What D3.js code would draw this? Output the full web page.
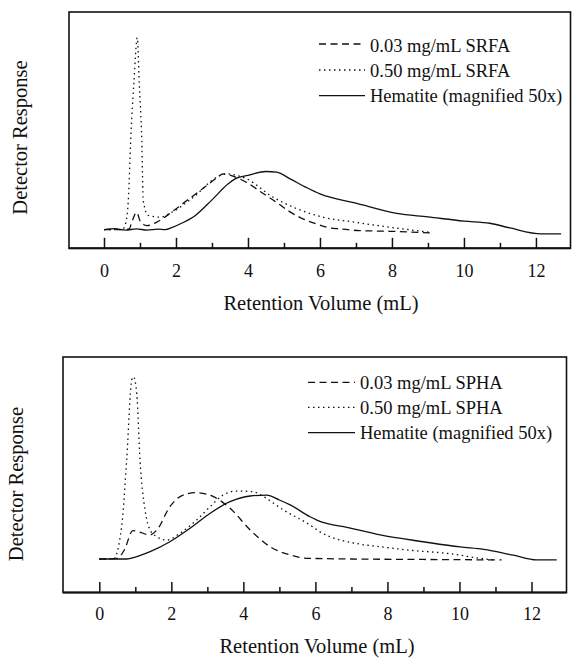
<!DOCTYPE html>
<html><head><meta charset="utf-8">
<script src="https://cdn.jsdelivr.net/npm/d3@7/dist/d3.min.js"></script>
<style>body{margin:0;background:#fff}svg{display:block}text{font-family:"Liberation Serif","Times New Roman",serif;fill:#111}</style>
</head><body>
<script>
// ---------- data ----------
const xTicksMajor = [0, 2, 4, 6, 8, 10, 12];
const xTicksMinor = [1, 3, 5, 7, 9, 11];
const xTitle = "Retention Volume (mL)";
const yTitle = "Detector Response";

// Top panel (SRFA)
const topLegend = ["0.03 mg/mL SRFA", "0.50 mg/mL SRFA", "Hematite (magnified 50x)"];
const srfaLowX  = [0, 0.5, 0.7, 0.77, 0.91, 1.0, 1.19, 1.46, 1.93, 2.3, 2.8, 3.1, 3.31, 3.6, 3.96, 4.4, 4.8, 5.12, 5.44, 5.9, 6.19, 6.55, 7.1, 7.94, 9.1];
const srfaLowY  = [0, 0, 0.3, 3.1, 7.3, 3.8, 1.7, 3.1, 8, 12.3, 18, 21.5, 23.6, 22.5, 20, 15.5, 11.5, 8, 5.2, 2.4, 1, 0.3, -0.4, -0.7, -1.4];
const srfaHighX = [0, 0.5, 0.61, 0.675, 0.75, 0.83, 0.925, 0.98, 1.05, 1.09, 1.23, 1.56, 1.88, 2.48, 3.22, 3.4, 3.96, 4.7, 5.26, 6.1, 7.0, 7.94, 9.05];
const srfaHighY = [0, 0, 3.1, 12.3, 40.7, 61.9, 81.2, 61.9, 37.7, 12.3, 6.0, 5.3, 7.3, 13.7, 22.9, 23.6, 21.5, 13.7, 9.5, 5.2, 3.1, 1, -1.1];
const hemTopX   = [0, 0.3, 0.6, 0.9, 1.2, 1.5, 1.7, 1.9, 2.2, 2.53, 3.0, 3.45, 3.64, 4.0, 4.5, 4.8, 5.17, 5.6, 6.0, 7.0, 8.13, 9.0, 10.0, 10.72, 11.28, 12.15, 12.7];
const hemTopY   = [0, 0.4, -0.2, 0.3, -0.2, 0.2, 0, 1, 3, 5.9, 12.6, 19.4, 21.5, 23, 24.6, 24.3, 21.5, 18, 15.1, 11.2, 6.9, 5.4, 3.6, 2.7, 0.7, -1.8, -1.8];

// Bottom panel (SPHA)
const botLegend = ["0.03 mg/mL SPHA", "0.50 mg/mL SPHA", "Hematite (magnified 50x)"];
const sphaLowX  = [0, 0.5, 0.7, 0.93, 1.1, 1.4, 1.6, 1.96, 2.33, 2.7, 3.17, 3.63, 4.19, 4.74, 5.3, 5.76, 7.0, 9.0, 11.17];
const sphaLowY  = [0, 0.3, 4, 12, 11.5, 10.2, 12.3, 22.2, 27.1, 28.1, 26.4, 21.5, 12.3, 5.2, 1.7, 0.3, 0, -0.2, -0.4];
const sphaHighX = [0, 0.39, 0.62, 0.76, 0.9, 0.95, 1.04, 1.13, 1.27, 1.41, 1.59, 1.87, 2.24, 2.7, 3.08, 3.44, 3.82, 4.28, 4.56, 5.11, 5.85, 6.13, 7.24, 7.8, 8.7, 9.65, 10.57, 10.94];
const sphaHighY = [0, 0, 13.7, 42, 75.8, 77.2, 70, 42, 20.8, 12.3, 9.5, 8, 10.9, 16.5, 22.2, 27.1, 28.8, 28.5, 26.4, 20.8, 14.4, 11.5, 6.3, 5.2, 3.6, 2.4, 0.3, -0.4];
const hemBotX   = [0, 0.76, 1.0, 1.41, 1.96, 2.52, 3.08, 3.63, 4.19, 4.65, 5.0, 5.3, 5.85, 6.04, 7.0, 7.8, 9.0, 10.02, 10.67, 11.5, 12.14, 12.7];
const hemBotY   = [0, 0, 0.8, 3.1, 7.3, 13, 19.4, 24.3, 26.7, 27.1, 25, 22.9, 17.9, 16.5, 13, 10.2, 7.3, 5.1, 4.1, 1.6, -0.4, -0.4];

// ---------- layout ----------
const W = 572, H = 659;
const svg = d3.select("body").append("svg").attr("width", W).attr("height", H);

const styles = [
  {dash: "7,4.5", width: 1.3},
  {dash: "1.5,3.5", width: 1.3},
  {dash: null, width: 1.3}
];

const panels = [
  {
    box: {l: 69, r: 570.5, t: 12, b: 248.3},
    xDom: [-0.972, 12.96], yDom: [-7.9, 92.1],
    series: [[srfaLowX, srfaLowY], [srfaHighX, srfaHighY], [hemTopX, hemTopY]],
    legend: topLegend,
    leg: {x1: 319, x2: 365, tx: 370, lineY: [44, 70, 95.7], textY: [51.7, 77.3, 102.3]},
    tickLab: 29, xTitle: {x: 321, y: 310}, yTitle: {x: 27, y: 137.5}
  },
  {
    box: {l: 63, r: 566.5, t: 357, b: 592.5},
    xDom: [-1.008, 12.972], yDom: [-14.2, 85.6],
    series: [[sphaLowX, sphaLowY], [sphaHighX, sphaHighY], [hemBotX, hemBotY]],
    legend: botLegend,
    leg: {x1: 308, x2: 355, tx: 360, lineY: [382.3, 407.3, 432.7], textY: [389.3, 414, 439.3]},
    tickLab: 27, xTitle: {x: 317, y: 653}, yTitle: {x: 23, y: 484}
  }
];

panels.forEach(p => {
  const g = svg.append("g");
  const x = d3.scaleLinear().domain(p.xDom).range([p.box.l, p.box.r]);
  const y = d3.scaleLinear().domain(p.yDom).range([p.box.b, p.box.t]);

  // frame
  g.append("rect").attr("x", p.box.l).attr("y", p.box.t)
    .attr("width", p.box.r - p.box.l).attr("height", p.box.b - p.box.t)
    .attr("fill", "none").attr("stroke", "#111").attr("stroke-width", 1.6);

  // axes (ticks point inward)
  const major = g.append("g").attr("transform", `translate(0,${p.box.b})`)
    .call(d3.axisBottom(x).tickValues(xTicksMajor).tickSizeInner(-10.5).tickSizeOuter(0).tickFormat(d3.format("d")));
  major.attr("font-family", null);
  major.select(".domain").remove();
  major.selectAll(".tick line").attr("stroke", "#111").attr("stroke-width", 1.5);
  major.selectAll(".tick text").attr("y", p.tickLab).attr("dy", 0)
    .style("font-size", "18px").attr("fill", "#111");
  const minor = g.append("g").attr("transform", `translate(0,${p.box.b})`)
    .call(d3.axisBottom(x).tickValues(xTicksMinor).tickSizeInner(-5.5).tickSizeOuter(0).tickFormat(""));
  minor.select(".domain").remove();
  minor.selectAll(".tick line").attr("stroke", "#111").attr("stroke-width", 1.5);
  g.append("line").attr("x1", p.box.l).attr("x2", p.box.r).attr("y1", p.box.b).attr("y2", p.box.b)
    .attr("stroke", "#111").attr("stroke-width", 2);

  // curves
  const line = d3.line().x(d => x(d[0])).y(d => y(d[1])).curve(d3.curveMonotoneX);
  p.series.forEach((s, i) => {
    const pts = s[0].map((v, k) => [v, s[1][k]]);
    g.append("path").attr("d", line(pts)).attr("fill", "none")
      .attr("stroke", "#111").attr("stroke-width", styles[i].width)
      .attr("stroke-dasharray", styles[i].dash);
  });

  // legend
  p.legend.forEach((t, i) => {
    g.append("line").attr("x1", p.leg.x1).attr("x2", p.leg.x2)
      .attr("y1", p.leg.lineY[i]).attr("y2", p.leg.lineY[i])
      .attr("stroke", "#111").attr("stroke-width", styles[i].width)
      .attr("stroke-dasharray", styles[i].dash);
    g.append("text").attr("x", p.leg.tx).attr("y", p.leg.textY[i])
      .style("font-size", "18.5px").text(t);
  });

  // titles
  g.append("text").attr("x", p.xTitle.x).attr("y", p.xTitle.y)
    .attr("text-anchor", "middle").style("font-size", "20.5px").text(xTitle);
  g.append("text").attr("transform", `translate(${p.yTitle.x},${p.yTitle.y}) rotate(-90)`)
    .attr("text-anchor", "middle").style("font-size", "20.5px").text(yTitle);
});
</script>
</body></html>
